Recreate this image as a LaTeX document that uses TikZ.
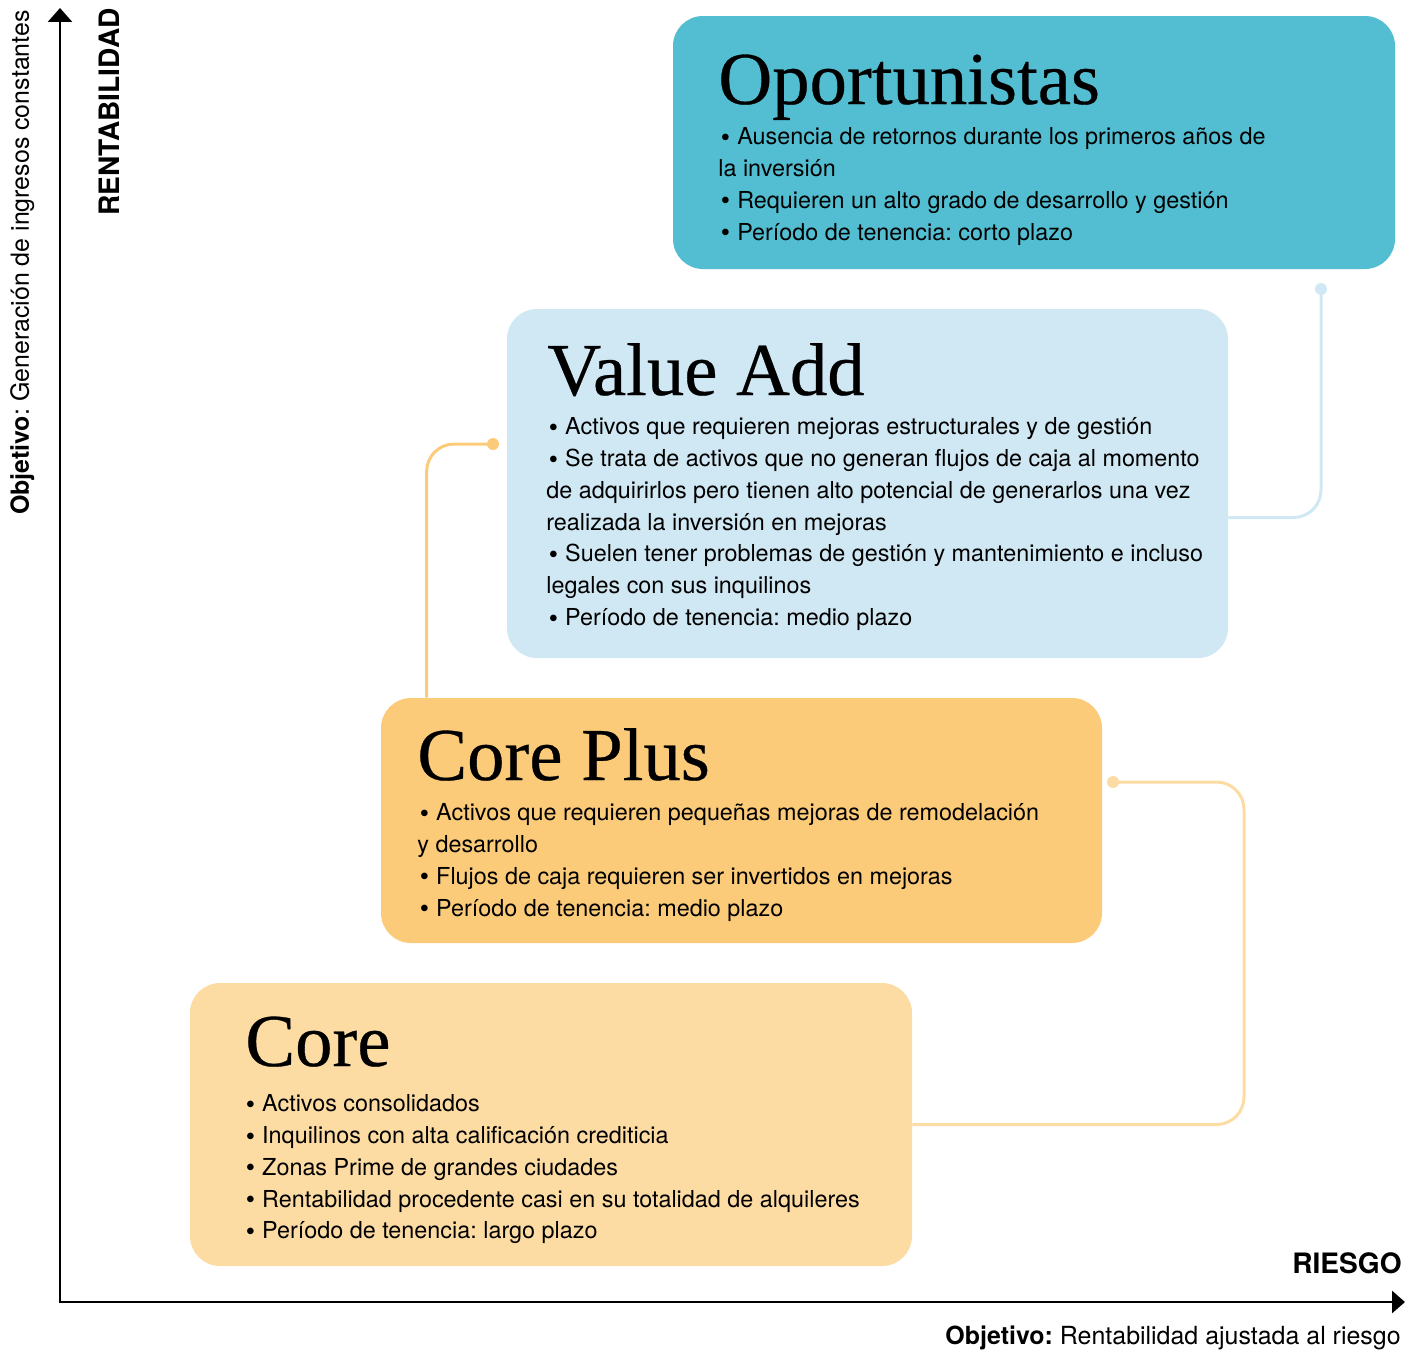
\documentclass[tikz,border=0pt]{standalone}
\usepackage{fontspec}
\setmainfont{TeX Gyre Heros}
\newfontfamily\titlefont[FakeBold=0.4]{Liberation Serif}
\usetikzlibrary{arrows.meta,fit,calc}
\frenchspacing

\definecolor{oportc}{HTML}{53BED1}
\definecolor{valuec}{HTML}{D0E8F3}
\definecolor{plusc}{HTML}{FCCB79}
\definecolor{corec}{HTML}{FDDCA4}

\newcommand{\bul}{\hspace{1.5pt}\raisebox{-1pt}{\fontsize{15pt}{15pt}\selectfont\textbullet}\hspace{4pt}}

\begin{document}
\begin{tikzpicture}[x=0.02cm, y=-0.02cm,
        box/.style = {rounded corners=0.6cm, inner sep=0pt},
        title/.style = {anchor=base west, inner sep=0pt, font=\titlefont\fontsize{42.5pt}{44pt}\selectfont},
        items/.style = {anchor=north west, inner sep=0pt, align=left, font=\fontsize{13.3pt}{18.14pt}\selectfont},
        conn/.style = {line width=1.7pt, rounded corners=0.55cm},
        axis/.style = {line width=1.6pt, {Triangle[length=0.28cm,width=0.48cm]}-{Triangle[length=0.26cm,width=0.44cm]}},
        lab/.style = {inner sep=0pt, font=\fontsize{14.2pt}{17pt}\selectfont}]

    \useasboundingbox (0,0) rectangle (1415,1349);

    % the four boxes
    \node[box, fill=corec, fit={(190,983) (912,1266)}] (core) {};
    \node[box, fill=plusc, fit={(381,698) (1102,943)}] (plus) {};
    \node[box, fill=valuec, fit={(507,309) (1228,658)}] (value) {};
    \node[box, fill=oportc, fit={(673,16) (1395,269)}] (oport) {};

    \node[title] (t1) at (245,1066) {Core};
    \node[title] (t2) at (417,780) {Core Plus};
    \node[title] (t3) at (547,395) {Value Add};
    \node[title] (t4) at (718,104) {Oportunistas};

    \node[items] (i1) at (243,1094) {\bul Activos consolidados\\
        \bul Inquilinos con alta calificación crediticia\\
        \bul Zonas Prime de grandes ciudades\\
        \bul Rentabilidad procedente casi en su totalidad de alquileres\\
        \bul Período de tenencia: largo plazo};
    \node[items] (i2) at (417,803) {\bul Activos que requieren pequeñas mejoras de remodelación\\
        y desarrollo\\
        \bul Flujos de caja requieren ser invertidos en mejoras\\
        \bul Período de tenencia: medio plazo};
    \node[items] (i3) at (546,417) {\bul Activos que requieren mejoras estructurales y de gestión\\
        \bul Se trata de activos que no generan flujos de caja al momento\\
        de adquirirlos pero tienen alto potencial de generarlos una vez\\
        realizada la inversión en mejoras\\
        \bul Suelen tener problemas de gestión y mantenimiento e incluso\\
        legales con sus inquilinos\\
        \bul Período de tenencia: medio plazo};
    \node[items] (i4) at (718,127) {\bul Ausencia de retornos durante los primeros años de\\
        la inversión\\
        \bul Requieren un alto grado de desarrollo y gestión\\
        \bul Período de tenencia: corto plazo};

    % links between the steps
    \coordinate (d1) at (1113,782);
    \coordinate (d2) at (493,444);
    \coordinate (d3) at (1321,289);
    \draw[conn, draw=corec] (core.east) -| (1244,782) -- (d1);
    \draw[conn, draw=plusc] ($(plus.north west)+(46,0)$) |- (d2);
    \draw[conn, draw=valuec] ($(value.east)+(0,34)$) -| (d3);
    \fill[corec] (d1) circle (0.12cm);
    \fill[plusc] (d2) circle (0.12cm);
    \fill[valuec] (d3) circle (0.12cm);

    % axes
    \coordinate (o) at (60,1302);
    \coordinate (ytip) at (60,8);
    \coordinate (xtip) at (1405,1302);
    \draw[axis] (ytip) -- (o) -- (xtip);

    \node[lab, font=\bfseries\fontsize{16pt}{16pt}\selectfont, rotate=90, anchor=base east] (yl) at (119,8) {RENTABILIDAD};
    \node[lab, rotate=90, anchor=base east] (yo) at (29,10) {\textbf{Objetivo}: Generación de ingresos constantes};
    \node[lab, font=\bfseries\fontsize{16pt}{16pt}\selectfont, anchor=base east] (xl) at (1402,1273) {RIESGO};
    \node[lab, anchor=base east] (xo) at (1401,1344) {\textbf{Objetivo:} Rentabilidad ajustada al riesgo};
\end{tikzpicture}
\end{document}
